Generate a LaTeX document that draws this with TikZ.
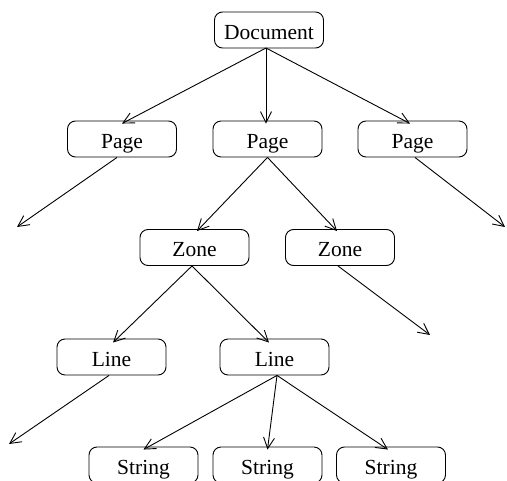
\documentclass[tikz,border=0pt]{standalone}
\usepackage{fontspec}
\setmainfont{Liberation Serif}
\usetikzlibrary{arrows.meta}
\begin{document}
\begin{tikzpicture}[x=1pt,y=-1pt,
  box/.style={draw,rounded corners=8pt,minimum width=109pt,minimum height=36pt,inner sep=0pt,text height=19pt,text depth=0.4pt,line width=0.9pt,font=\fontsize{21.5}{24}\selectfont},
  arr/.style={line width=0.9pt,-{Straight Barb[length=11pt,width=11pt,line width=0.9pt]}}]
\useasboundingbox (0,0) rectangle (507,481);
\clip (0,0) rectangle (507,481);
\node[box] (doc) at (269,30) {Document};
\node[box] (p1) at (122,139) {Page};
\node[box] (p2) at (267.5,139) {Page};
\node[box] (p3) at (412.5,139) {Page};
\node[box] (z1) at (194.5,247.5) {Zone};
\node[box] (z2) at (340,247.5) {Zone};
\node[box] (l1) at (111.5,357) {Line};
\node[box] (l2) at (274.5,357) {Line};
\node[box] (s1) at (143.5,465) {String};
\node[box] (s2) at (267.5,465) {String};
\node[box] (s3) at (391,465) {String};
\coordinate (e1) at (17,227);
\coordinate (e2) at (505,227);
\coordinate (e3) at (430,335);
\coordinate (e4) at (9,444);
\coordinate (ds) at (266,48);
\draw[arr] (ds) -- ([yshift=-3pt]p1.north);
\draw[arr] (ds) -- ([xshift=-1.5pt,yshift=-3pt]p2.north);
\draw[arr] (ds) -- ([xshift=-2.5pt,yshift=-3pt]p3.north);
\draw[arr] ([xshift=-5pt]p1.south) -- (e1);
\draw[arr] (p2.south) -- ([xshift=2.5pt,yshift=-2pt]z1.north);
\draw[arr] (p2.south) -- ([xshift=-3pt,yshift=-2pt]z2.north);
\draw[arr] ([xshift=2.5pt]p3.south) -- (e2);
\draw[arr] ([xshift=-2.5pt]z1.south) -- ([xshift=1.5pt,yshift=-4pt]l1.north);
\draw[arr] ([xshift=-2.5pt]z1.south) -- ([xshift=-5.5pt,yshift=-4pt]l2.north);
\draw[arr] ([xshift=-2pt]z2.south) -- (e3);
\draw[arr] ([xshift=-2.5pt]l1.south) -- (e4);
\draw[arr] ([xshift=2.5pt]l2.south) -- ([yshift=-3pt]s1.north);
\draw[arr] ([xshift=2.5pt]l2.south) -- ([yshift=-3pt]s2.north);
\draw[arr] ([xshift=2.5pt]l2.south) -- ([xshift=-3pt,yshift=-3pt]s3.north);
\end{tikzpicture}
\end{document}
